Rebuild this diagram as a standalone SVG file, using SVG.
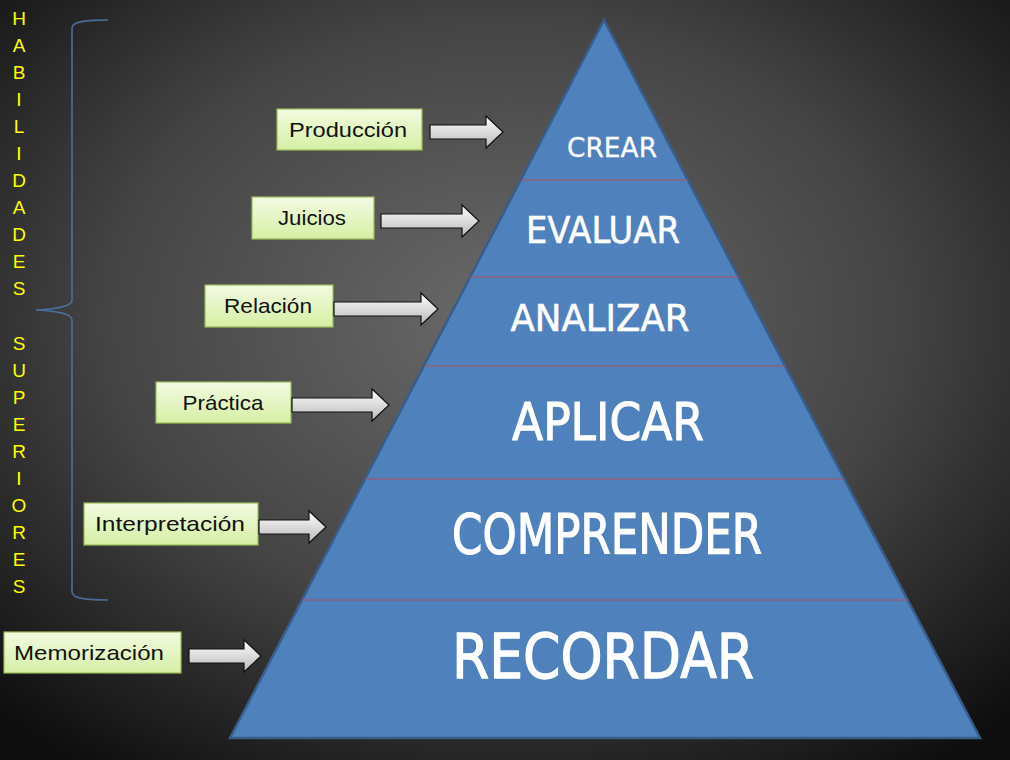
<svg xmlns="http://www.w3.org/2000/svg" width="1010" height="760" viewBox="0 0 1010 760">
<defs>
<radialGradient id="bg" cx="50%" cy="42%" r="72%">
<stop offset="0" stop-color="#6a6a6a"/>
<stop offset="0.55" stop-color="#444"/>
<stop offset="1" stop-color="#0e0e0e"/>
</radialGradient>
<linearGradient id="box" x1="0" y1="0" x2="0" y2="1">
<stop offset="0" stop-color="#f3fbe2"/>
<stop offset="1" stop-color="#d5efa4"/>
</linearGradient>
<linearGradient id="arr" x1="0" y1="0" x2="0" y2="1">
<stop offset="0" stop-color="#ffffff"/>
<stop offset="1" stop-color="#b8b8b8"/>
</linearGradient>
</defs>
<style>
.lbl rect{fill:url(#box);stroke:#9bbb59;stroke-width:1.2}
.lbl text{font-family:"Liberation Sans",Arial,sans-serif;font-size:21px;fill:#111;text-anchor:middle}
.lvl text{font-family:"DejaVu Sans",sans-serif;fill:#fff;stroke:#fff;text-anchor:middle}
.div{stroke:#b0505a;stroke-width:1}
.arrow{fill:url(#arr);stroke:#111;stroke-width:1.2}
.vt{font-family:"Liberation Sans",Arial,sans-serif;font-size:19px;fill:#ffff00;text-anchor:middle}
</style>
<rect width="1010" height="760" fill="url(#bg)"/>

<g id="vertical-text">
<text class="vt"><tspan x="19" y="25">H</tspan><tspan x="19" y="52">A</tspan><tspan x="19" y="79">B</tspan><tspan x="19" y="106">I</tspan><tspan x="19" y="133">L</tspan><tspan x="19" y="160">I</tspan><tspan x="19" y="187">D</tspan><tspan x="19" y="214">A</tspan><tspan x="19" y="241">D</tspan><tspan x="19" y="268">E</tspan><tspan x="19" y="295">S</tspan></text>
<text class="vt"><tspan x="19" y="350">S</tspan><tspan x="19" y="377">U</tspan><tspan x="19" y="404">P</tspan><tspan x="19" y="431">E</tspan><tspan x="19" y="458">R</tspan><tspan x="19" y="485">I</tspan><tspan x="19" y="512">O</tspan><tspan x="19" y="539">R</tspan><tspan x="19" y="566">E</tspan><tspan x="19" y="593">S</tspan></text>
</g>

<g id="brace">
<path d="M108,20 C90,20 72,21 72,28 L72,300 C72,307 55,309 36,310 C55,311 72,313 72,320 L72,592 C72,599 90,600 108,600" fill="none" stroke="#4a6f9f" stroke-width="1.6"/>
</g>

<g id="pyramid">
<polygon points="604,20 980,738 230,738" fill="#4f81bd" stroke="#385d8a" stroke-width="2.5"/>
</g>
<g id="level-crear" class="lvl">
<text x="612" y="157" font-size="27" stroke-width="0.3" textLength="90" lengthAdjust="spacingAndGlyphs">CREAR</text>
</g>
<g id="level-evaluar" class="lvl">
<line class="div" x1="521" y1="180" x2="688" y2="180"/>
<text x="603" y="243" font-size="38" stroke-width="0.6" textLength="154" lengthAdjust="spacingAndGlyphs">EVALUAR</text>
</g>
<g id="level-analizar" class="lvl">
<line class="div" x1="470" y1="277" x2="739" y2="277"/>
<text x="600" y="331" font-size="38" stroke-width="0.6" textLength="179" lengthAdjust="spacingAndGlyphs">ANALIZAR</text>
</g>
<g id="level-aplicar" class="lvl">
<line class="div" x1="424" y1="366" x2="785" y2="366"/>
<text x="608" y="440" font-size="52" stroke-width="1.1" textLength="192" lengthAdjust="spacingAndGlyphs">APLICAR</text>
</g>
<g id="level-comprender" class="lvl">
<line class="div" x1="365" y1="479" x2="844" y2="479"/>
<text x="607" y="553" font-size="55" stroke-width="1.2" textLength="310" lengthAdjust="spacingAndGlyphs">COMPRENDER</text>
</g>
<g id="level-recordar" class="lvl">
<line class="div" x1="302" y1="600" x2="908" y2="600"/>
<text x="603" y="678" font-size="63" stroke-width="1.3" textLength="302" lengthAdjust="spacingAndGlyphs">RECORDAR</text>
</g>

<g id="label-produccion" class="lbl">
<rect x="277" y="109" width="145" height="41"/>
<text x="348" y="137" textLength="118" lengthAdjust="spacingAndGlyphs">Producción</text>
</g>
<g id="label-juicios" class="lbl">
<rect x="252" y="197" width="122" height="42"/>
<text x="312" y="225" textLength="68" lengthAdjust="spacingAndGlyphs">Juicios</text>
</g>
<g id="label-relacion" class="lbl">
<rect x="205" y="285" width="128" height="42"/>
<text x="268" y="313" textLength="88" lengthAdjust="spacingAndGlyphs">Relación</text>
</g>
<g id="label-practica" class="lbl">
<rect x="156" y="382" width="135" height="41"/>
<text x="223" y="410" textLength="81" lengthAdjust="spacingAndGlyphs">Práctica</text>
</g>
<g id="label-interpretacion" class="lbl">
<rect x="84" y="503" width="174" height="42"/>
<text x="170" y="531" textLength="150" lengthAdjust="spacingAndGlyphs">Interpretación</text>
</g>
<g id="label-memorizacion" class="lbl">
<rect x="4" y="632" width="177" height="41"/>
<text x="89" y="660" textLength="150" lengthAdjust="spacingAndGlyphs">Memorización</text>
</g>

<g id="connectors">
<polygon class="arrow" points="430,125 486,125 486,116 503,132 486,148 486,139 430,139"/>
<polygon class="arrow" points="381,214 462,214 462,205 479,221 462,237 462,228 381,228"/>
<polygon class="arrow" points="334,302 421,302 421,293 438,309 421,325 421,316 334,316"/>
<polygon class="arrow" points="292,398 372,398 372,389 389,405 372,421 372,412 292,412"/>
<polygon class="arrow" points="259,520 309,520 309,511 326,527 309,543 309,534 259,534"/>
<polygon class="arrow" points="189,649 244,649 244,640 261,656 244,672 244,663 189,663"/>
</g>
</svg>
